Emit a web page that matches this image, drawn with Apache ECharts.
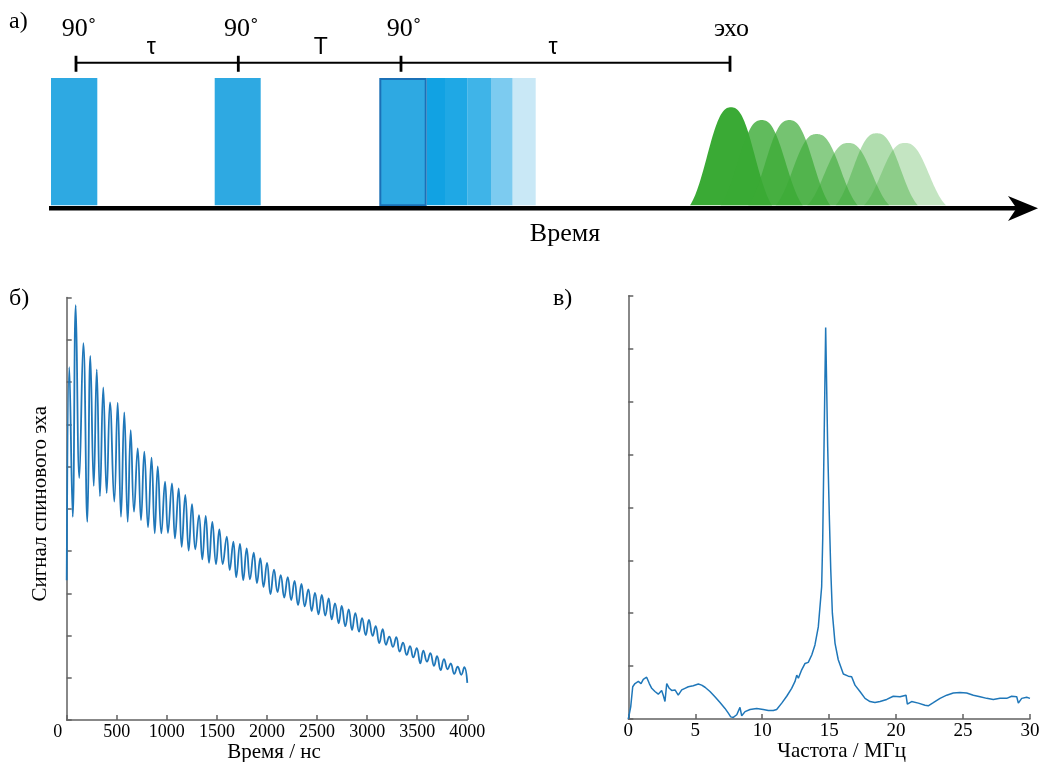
<!DOCTYPE html>
<html><head><meta charset="utf-8">
<script src="https://cdn.jsdelivr.net/npm/echarts@6/dist/echarts.min.js"></script>
<style>html,body{margin:0;padding:0;background:#fff}#c{width:1040px;height:762px}</style>
</head><body><div id="c"></div>
<script>
// ---------- Panel а: pulse sequence (schematic time units) ----------
const pulseStart = [5.1, 21.47, 37.93];
const pulseEnd   = [9.73, 26.07, 42.67];
const tailStart  = [42.67, 44.5, 46.77, 49.1, 51.27];
const tailEnd    = [44.5, 46.77, 49.1, 51.27, 53.57];
const echoCenter = [73.1, 76.17, 78.93, 81.67, 84.83, 87.67, 90.5];
const echoHeight = [0.77, 0.67, 0.67, 0.56, 0.49, 0.566, 0.49];
const echoHalfWidth = 4.1;
const markTimes  = [7.6, 23.83, 40.1, 73.0];
const markLabels = ['90˚', '90˚', '90˚', 'эхо'];
const intervalLabels = ['τ', 'T', 'τ'];
const intervalLabelPos = [15.13, 32.07, 55.3];
const timeAxisRange = [4.9, 101.65, 103.8]; // start, arrow notch, arrow tip

// ---------- Panel б: spin-echo signal vs time ----------
const sigT = [0,26,60,90,126,166,206,236,270,300,
  332,365,399,432,475,509,542,575,609,639,
  672,709,742,775,812,847,879,909,945,982,
  1011,1051,1081,1118,1148,1184,1218,1251,1284,1321,
  1354,1388,1421,1454,1491,1524,1558,1598,1628,1664,
  1693,1730,1763,1797,1830,1867,1900,1933,1966,2000,
  2035,2070,2105,2137,2172,2207,2242,2275,2310,2344,
  2377,2413,2446,2479,2514,2547,2582,2616,2646,2679,
  2716,2746,2782,2816,2849,2882,2919,2949,2986,3018,
  3055,3085,3121,3155,3188,3221,3258,3291,3325,3358,
  3395,3428,3461,3495,3531,3561,3598,3631,3668,3698,
  3734,3767,3804,3834,3870,3904,3940,3970,4000];
const sigV = [3.31,8.35,4.81,9.82,5.73,8.92,4.69,8.62,5.54,8.30,
  5.30,7.87,5.37,7.52,5.17,7.51,4.81,7.28,4.69,6.86,
  4.93,6.43,4.73,6.35,4.56,6.21,4.42,6.00,4.42,5.64,
  4.43,5.60,4.30,5.48,4.10,5.33,4.01,5.11,4.04,4.85,
  3.80,4.83,3.72,4.69,3.69,4.51,3.69,4.34,3.55,4.22,
  3.38,4.17,3.31,4.06,3.33,3.96,3.24,3.83,3.15,3.72,
  2.98,3.56,3.03,3.43,2.90,3.38,2.84,3.29,2.72,3.22,
  2.69,3.09,2.58,3.01,2.50,2.96,2.47,2.88,2.38,2.76,
  2.29,2.70,2.22,2.62,2.13,2.53,2.09,2.41,2.01,2.37,
  1.99,2.22,1.82,2.15,1.78,1.97,1.73,1.96,1.62,1.83,
  1.54,1.75,1.48,1.70,1.34,1.64,1.38,1.58,1.28,1.51,
  1.18,1.44,1.20,1.34,1.09,1.26,1.07,1.25,0.88];
const timeTicks = [0, 4000, 500];

// ---------- Panel в: spectrum ----------
const freqX = [0,0.18,0.33,0.50,0.75,0.95,1.12,1.37,1.57,1.75,
  1.99,2.24,2.49,2.61,2.74,2.87,3.06,3.24,3.49,3.73,
  3.99,4.23,4.48,4.85,5.23,5.48,5.73,6.10,6.47,6.85,
  7.22,7.47,7.65,7.84,8.10,8.34,8.47,8.72,9.09,9.59,
  10.08,10.46,10.83,11.08,11.46,11.83,12.20,12.45,12.58,12.70,
  12.95,13.20,13.44,13.70,13.94,14.19,14.44,14.52,14.62,14.74,
  14.89,15.02,15.12,15.24,15.44,15.68,16.06,16.43,16.68,16.93,
  17.30,17.68,18.05,18.42,18.80,19.30,19.79,20.29,20.74,20.84,
  21.16,21.66,22.16,22.40,22.78,23.28,23.78,24.27,24.77,25.27,
  25.77,26.27,26.77,27.26,27.76,28.26,28.63,29.01,29.13,29.38,
  29.75,30.0];
const ampY = [0,0.23,0.61,0.67,0.71,0.67,0.75,0.79,0.67,0.58,
  0.52,0.47,0.54,0.45,0.33,0.67,0.58,0.54,0.55,0.45,
  0.55,0.58,0.61,0.63,0.66,0.64,0.60,0.52,0.42,0.31,
  0.20,0.11,0.04,0.03,0.08,0.22,0.06,0.14,0.18,0.20,
  0.18,0.16,0.16,0.18,0.30,0.43,0.58,0.71,0.83,0.77,
  0.93,1.05,1.07,1.21,1.40,1.74,2.50,3.40,5.20,7.40,
  5.15,3.76,2.82,2.00,1.43,1.12,0.85,0.81,0.80,0.64,
  0.52,0.39,0.33,0.31,0.33,0.37,0.43,0.42,0.45,0.28,
  0.33,0.30,0.26,0.25,0.31,0.39,0.45,0.49,0.50,0.49,
  0.45,0.42,0.39,0.37,0.39,0.39,0.43,0.42,0.30,0.39,
  0.41,0.39];
const freqTicks = [0, 30, 5];

// ---------- styles ----------
const SERIF = "'Liberation Serif','Times New Roman',serif";
const SANS = "'Liberation Sans',Arial,sans-serif";
const AXIS = '#616161';
const LINE = '#1f77b9';
const pulseFill = '#2ea9e2';
const tailColors = ['#11a2e3','#1fa8e5','#3fb4e8','#7ccbf0','#c9e8f6'];
const echoAlpha = [1, 0.8, 0.7, 0.6, 0.48, 0.4, 0.3];

const chart = echarts.init(document.getElementById('c'), null, {renderer: 'canvas'});

function txt(text, x, y, font, align) {
  return {type: 'text', style: {text: text, x: x, y: y, font: font, fill: '#000',
    align: align || 'center', verticalAlign: 'middle',
    textAlign: align || 'center', textVerticalAlign: 'middle'}};
}

function plotAxisX(idx, ticks, fontSize, zeroShift) {
  return {gridIndex: idx, type: 'value', min: ticks[0], max: ticks[1], interval: ticks[2],
    axisLine: {show: true, onZero: false, lineStyle: {color: AXIS, width: 1.5}},
    axisTick: {show: true, inside: true, length: 5, lineStyle: {color: AXIS, width: 1.5}},
    splitLine: {show: false},
    axisLabel: {show: true, showMinLabel: true, showMaxLabel: true, margin: 3,
      fontSize: fontSize, fontFamily: SERIF, color: '#000',
      formatter: function (v) { return (v === 0 && zeroShift) ? '{z|0}' : String(v); },
      rich: {z: {fontSize: fontSize, fontFamily: SERIF, color: '#000', padding: [0, zeroShift || 0, 0, 0]}}},
    nameLocation: 'middle', nameGap: 22, nameMoveOverlap: false,
    nameTextStyle: {fontSize: 21, fontFamily: SERIF, color: '#000'}
  };
}
function plotAxisY(idx, max) {
  return {gridIndex: idx, type: 'value', min: 0, max: max, interval: 1,
    axisLine: {show: true, onZero: false, lineStyle: {color: AXIS, width: 1.5}},
    axisTick: {show: true, inside: true, length: 5, lineStyle: {color: AXIS, width: 1.5}},
    splitLine: {show: false}, axisLabel: {show: false},
    nameLocation: 'middle', nameRotate: 90, nameGap: 16, nameMoveOverlap: false,
    nameTextStyle: {fontSize: 21, fontFamily: SERIF, color: '#000', padding: [0, 0, 0, 10]}
  };
}

const xB = plotAxisX(1, timeTicks, 18, 18);
xB.name = 'Время / нс';
xB.nameTextStyle.padding = [0, 0, 0, 14];
const xC = plotAxisX(2, freqTicks, 19, 0);
xC.name = 'Частота / МГц';
xC.nameTextStyle.padding = [0, 0, 0, 25];
const yB = plotAxisY(1, 10);
yB.name = 'Сигнал спинового эха';
const yC = plotAxisY(2, 8);

const option = {
  animation: false,
  backgroundColor: '#fff',
  grid: [
    {left: 0, width: 1040, top: 14.4, height: 254.6, outerBoundsMode: 'none', containLabel: false},
    {left: 66.7, right: 572.7, top: 297.5, bottom: 42, outerBoundsMode: 'none', containLabel: false},
    {left: 628.3, right: 10, top: 295.7, bottom: 43, outerBoundsMode: 'none', containLabel: false}
  ],
  xAxis: [
    {gridIndex: 0, type: 'value', min: 0, max: 104, show: false},
    xB, xC
  ],
  yAxis: [
    {gridIndex: 0, type: 'value', min: -0.5, max: 1.5, show: false},
    yB, yC
  ],
  graphic: [
    {type: 'text', x: 9, y: 22, style: {text: 'а)', font: '24px ' + SERIF, fill: '#000', verticalAlign: 'middle', textVerticalAlign: 'middle'}},
    {type: 'text', x: 9, y: 299, style: {text: 'б)', font: '24px ' + SERIF, fill: '#000', verticalAlign: 'middle', textVerticalAlign: 'middle'}},
    {type: 'text', x: 553, y: 299, style: {text: 'в)', font: '24px ' + SERIF, fill: '#000', verticalAlign: 'middle', textVerticalAlign: 'middle'}},
    {type: 'text', x: 565, y: 234, style: {text: 'Время', font: '26px ' + SERIF, fill: '#000', align: 'center', textAlign: 'center', verticalAlign: 'middle', textVerticalAlign: 'middle'}}
  ],
  series: [
    { // tail of shifted third pulses
      type: 'custom', xAxisIndex: 0, yAxisIndex: 0, clip: false, silent: true,
      data: tailStart.map((s, i) => [s, tailEnd[i], i]),
      renderItem: function (params, api) {
        const p0 = api.coord([api.value(0), 1]);
        const p1 = api.coord([api.value(1), 0]);
        return {type: 'rect', shape: {x: p0[0], y: p0[1], width: p1[0] - p0[0], height: p1[1] - p0[1]},
          style: {fill: tailColors[params.dataIndex]}};
      }
    },
    { // 90° pulses
      type: 'custom', xAxisIndex: 0, yAxisIndex: 0, clip: false, silent: true,
      data: pulseStart.map((s, i) => [s, pulseEnd[i], i]),
      renderItem: function (params, api) {
        const p0 = api.coord([api.value(0), 1]);
        const p1 = api.coord([api.value(1), 0]);
        const last = params.dataIndex === pulseStart.length - 1;
        return {type: 'rect', shape: last ? {x: p0[0] + 1, y: p0[1] + 1, width: p1[0] - p0[0] - 2, height: p1[1] - p0[1] - 1}
                                          : {x: p0[0], y: p0[1], width: p1[0] - p0[0], height: p1[1] - p0[1]},
          style: last ? {fill: pulseFill, stroke: '#1b70b6', lineWidth: 2} : {fill: pulseFill}};
      }
    },
    { // echoes (bell-shaped schematic pulses)
      type: 'custom', xAxisIndex: 0, yAxisIndex: 0, clip: false, silent: true,
      data: echoCenter.map((c, i) => [c, echoHeight[i], i]),
      renderItem: function (params, api) {
        const c = api.value(0), h = api.value(1);
        const pts = [];
        const N = 40, s = 0.72, pw = 2.5;
        const e0 = Math.exp(-Math.pow(1 / s, pw));
        for (let k = -N; k <= N; k++) {
          const u = k / N;
          const f = (Math.exp(-Math.pow(Math.abs(u) / s, pw)) - e0) / (1 - e0);
          pts.push(api.coord([c + echoHalfWidth * u, h * f]));
        }
        return {type: 'polygon', shape: {points: pts},
          style: {fill: 'rgba(58,170,53,' + echoAlpha[params.dataIndex] + ')'}};
      }
    },
    { // timeline with labels
      type: 'custom', xAxisIndex: 0, yAxisIndex: 0, clip: false, silent: true,
      data: markTimes.map((t, i) => [t, i]),
      renderItem: function (params, api) {
        const i = params.dataIndex;
        const p = api.coord([api.value(0), 1.12]);
        const children = [
          {type: 'line', shape: {x1: p[0], y1: p[1] - 7, x2: p[0], y2: p[1] + 9}, style: {stroke: '#000', lineWidth: 2.8}},
          txt(markLabels[i], p[0] + (i === 3 ? 1.5 : 3), p[1] - 34, '26px ' + SERIF)
        ];
        if (i < markTimes.length - 1) {
          const q = api.coord([markTimes[i + 1], 1.12]);
          children.push({type: 'line', shape: {x1: p[0], y1: p[1], x2: q[0], y2: q[1]}, style: {stroke: '#000', lineWidth: 2}});
          const lp = api.coord([intervalLabelPos[i], 1.12]);
          children.push(txt(intervalLabels[i], lp[0], p[1] - 15, '23px ' + SANS));
        }
        return {type: 'group', children: children};
      }
    },
    { // time axis arrow
      type: 'custom', xAxisIndex: 0, yAxisIndex: 0, clip: false, silent: true,
      data: [timeAxisRange],
      renderItem: function (params, api) {
        const a = api.coord([api.value(0), -0.023]);
        const n = api.coord([api.value(1), -0.023]);
        const t = api.coord([api.value(2), -0.023]);
        return {type: 'group', children: [
          {type: 'line', shape: {x1: a[0], y1: a[1], x2: n[0] + 2, y2: n[1]}, style: {stroke: '#000', lineWidth: 4.6}},
          {type: 'polygon', shape: {points: [[t[0], t[1]], [t[0] - 30, t[1] - 12.3], [n[0], n[1]], [t[0] - 30, t[1] + 12.7]]}, style: {fill: '#000'}}
        ]};
      }
    },
    {
      type: 'line', xAxisIndex: 1, yAxisIndex: 1, showSymbol: false, smooth: 0.45,
      data: sigT.map((t, i) => [t, sigV[i]]),
      lineStyle: {color: LINE, width: 1.8}, silent: true
    },
    {
      type: 'line', xAxisIndex: 2, yAxisIndex: 2, showSymbol: false, smooth: false,
      data: freqX.map((f, i) => [f, ampY[i]]),
      lineStyle: {color: LINE, width: 1.5}, silent: true
    }
  ]
};
chart.setOption(option);
</script>
</body></html>
